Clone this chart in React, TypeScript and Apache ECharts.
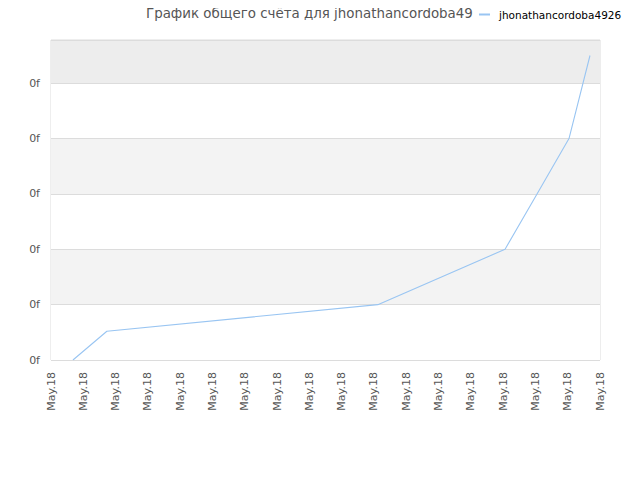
import React, { useEffect, useRef } from 'react';
import * as echarts from 'echarts';

// positions along the date axis (in tick units) and score values
const xPositions = [0.68, 1.73, 10.12, 14.06, 15.05, 16.04, 16.69];
const scores = [0, 0.52, 1.0, 2.0, 3.0, 4.0, 5.5];
const dateLabel = 'May.18';
const yLabel = '0f';
const seriesName = 'jhonathancordoba4926';
const titleText = 'График общего счёта для jhonathancordoba49';

const App: React.FC = () => {
  const chartRef = useRef<HTMLDivElement>(null);

  useEffect(() => {
    if (!chartRef.current) return;
    const myChart = echarts.init(chartRef.current, null, { renderer: 'svg' });
    const font = 'DejaVu Sans';
    const option = {
      animation: false,
      textStyle: { fontFamily: font },
      title: {
        text: titleText,
        left: 146,
        top: 7,
        padding: 0,
        textStyle: { fontSize: 13.4, fontWeight: 'normal', color: '#555', fontFamily: font }
      },
      legend: {
        left: 479,
        top: 9,
        padding: 0,
        icon: 'rect',
        itemWidth: 11,
        itemHeight: 2,
        textStyle: { fontSize: 10.5, color: '#000', fontFamily: font, padding: [0, 0, 0, 4] },
        data: [seriesName]
      },
      grid: {
        left: 51,
        right: 40,
        top: 40,
        bottom: 120,
        show: true,
        borderColor: '#dcdcdc',
        borderWidth: 1
      },
      xAxis: {
        type: 'value',
        min: 0,
        max: 17,
        interval: 1,
        axisLine: { show: false },
        axisTick: { show: false },
        splitLine: { show: false },
        axisLabel: {
          rotate: 90,
          margin: 12,
          fontSize: 11,
          color: '#555',
          fontFamily: font,
          formatter: () => dateLabel
        }
      },
      yAxis: {
        type: 'value',
        min: 0,
        max: 5.78,
        interval: 1,
        axisLine: { show: false },
        axisTick: { show: false },
        splitLine: { show: true, lineStyle: { color: '#dcdcdc' } },
        splitArea: {
          show: true,
          areaStyle: { color: ['#ffffff', '#f3f3f3', '#ffffff', '#f3f3f3', '#ffffff', '#ededed'] }
        },
        axisLabel: {
          showMaxLabel: false,
          margin: 11,
          fontSize: 11,
          color: '#555',
          fontFamily: font,
          formatter: () => yLabel
        }
      },
      series: [
        {
          name: seriesName,
          type: 'line',
          data: xPositions.map((x, i) => [x, scores[i]]),
          showSymbol: false,
          lineStyle: { color: '#99c5f2', width: 1.1 },
          itemStyle: { color: '#99c5f2' }
        }
      ]
    };
    myChart.setOption(option);
    return () => { myChart.dispose(); };
  }, []);

  // shift over the body's 8px margin so the chart fills the window
  return (
    <div
      ref={chartRef}
      style={{ width: 640, height: 480, position: 'relative', left: -8, top: -8 }}
    />
  );
};

export default App;
